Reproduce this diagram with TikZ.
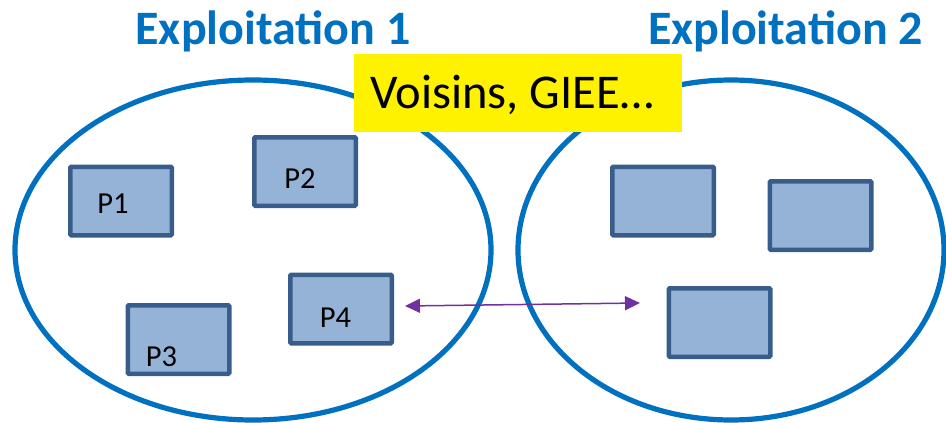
\documentclass[tikz,border=0pt]{standalone}
\usepackage{fontspec}
\setmainfont{Carlito}
\usetikzlibrary{shapes.geometric,arrows.meta}
\definecolor{exblue}{HTML}{0070C0}
\definecolor{boxfill}{HTML}{95B3D7}
\definecolor{boxline}{HTML}{385D8A}
\definecolor{arrowpurple}{HTML}{7030A0}
\tikzset{
  farm/.style={ellipse, draw=exblue, line width=5.2pt, inner sep=0pt, minimum height=340pt},
  plot/.style={rectangle, draw=boxline, fill=boxfill, line width=4.5pt, inner sep=0pt,
    minimum width=101.5pt, minimum height=68.5pt, rounded corners=1pt},
  plotlabel/.style={anchor=base, font=\fontsize{30.5}{31}\selectfont, inner sep=0pt},
  title/.style={anchor=base, font=\fontsize{48}{50}\selectfont\bfseries, text=exblue, inner sep=0pt},
  link/.style={draw=arrowpurple, line width=1.5pt, {Triangle[length=15pt,width=14pt]}-{Triangle[length=15pt,width=14pt]}}
}
\begin{document}
\begin{tikzpicture}[x=1pt,y=-1pt]
\useasboundingbox (0,0) rectangle (946,423);
% farms
\node[farm, minimum width=476pt] (e1) at (253,250) {};
\node[farm, minimum width=426pt] (e2) at (731,250) {};
% titles
\node[title] (t1) at (273,44) {Exploitation 1};
\node[title] (t2) at (785.5,44) {Exploitation 2};
% yellow box
\node[rectangle, fill=yellow, inner sep=0pt, minimum width=328pt, minimum height=78pt] (yb) at (518,93) {};
\node[anchor=base, inner sep=0pt, font=\fontsize{48.5}{50}\selectfont] (vt) at (512,108) {Voisins, GIEE…};
% plots
\node[plot] (p1) at (121,201) {};
\node[plot] (p2) at (305,171.5) {};
\node[plot] (p3) at (178.5,339.5) {};
\node[plot] (p4) at (341,309) {};
\node[plot] (r1) at (663,201) {};
\node[plot] (r2) at (820.5,215.5) {};
\node[plot] (r3) at (719.5,322.5) {};
\node[plotlabel] (l1) at (113,213) {P1};
\node[plotlabel] (l2) at (300,188) {P2};
\node[plotlabel] (l3) at (161.5,366) {P3};
\node[plotlabel] (l4) at (335.5,327) {P4};
% arrow
\coordinate (a1) at (405,306);
\coordinate (a2) at (640,303);
\draw[link] (a1) -- (a2);
\end{tikzpicture}
\end{document}
